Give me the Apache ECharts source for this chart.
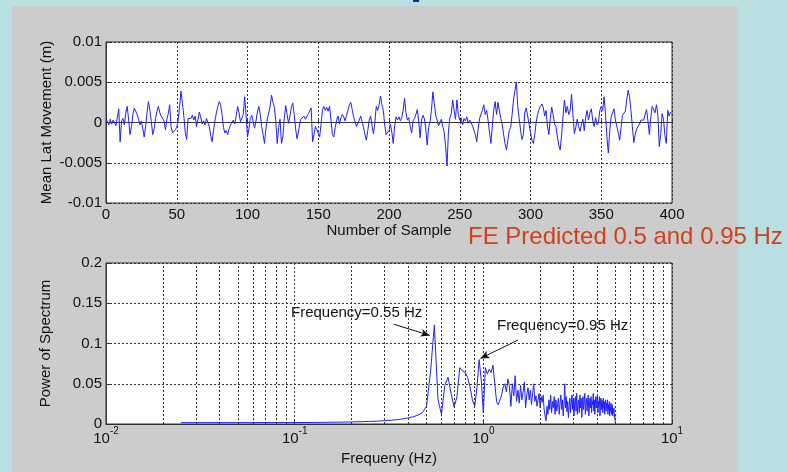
<!DOCTYPE html>
<html>
<head>
<meta charset="utf-8">
<script src="https://cdn.jsdelivr.net/npm/echarts@6/dist/echarts.min.js"></script>
<style>
  html, body { margin: 0; padding: 0; background: #badfe3; }
  #chart { width: 787px; height: 472px; }
</style>
</head>
<body>
<div id="chart"></div>
<script>
// Mean lateral movement per sample, in millimetres (samples 0..399)
const latMovementMm = [
  0.5,0.1,-0.3,0.4,-0.2,0.3,0.0,-0.4,0.6,1.7,
  -2.4,0.2,0.5,-0.3,1.2,2.0,0.3,-1.5,-0.5,1.0,
  1.8,2.0,1.0,0.4,-0.3,0.2,-0.8,-1.8,-0.5,1.2,
  2.6,1.5,0.2,-1.5,-0.8,0.5,1.4,2.0,1.2,0.8,
  1.0,0.2,-0.9,0.4,1.1,2.2,-0.5,-1.3,-1.1,-0.9,
  -0.6,0.3,2.0,3.9,2.4,0.8,-1.2,-2.1,0.5,0.7,
  0.5,0.9,0.3,0.8,-0.5,0.4,1.3,0.6,-0.2,0.2,
  -0.3,0.5,0.7,-0.5,-1.6,-2.4,-1.0,0.2,1.2,2.0,
  2.6,2.2,1.0,-0.6,-1.3,-1.0,-1.5,-0.8,-0.3,0.0,
  0.3,-0.2,0.8,2.0,1.2,0.1,0.3,1.0,3.2,1.0,
  -1.8,-0.8,0.5,0.9,0.1,-0.7,0.2,1.3,2.0,1.0,
  -0.5,-1.5,-2.6,-0.8,0.4,1.2,2.0,3.4,2.5,1.9,
  0.2,-2.6,-0.6,0.4,-2.6,-1.8,0.5,2.1,1.0,-0.1,
  0.8,1.9,2.4,1.0,-0.8,-2.0,-1.2,0.0,0.5,0.3,
  0.8,0.4,0.6,1.1,1.2,1.8,-2.4,-1.5,-0.5,-0.9,
  -1.0,-1.8,-0.2,1.6,2.0,1.5,1.9,1.4,2.0,0.3,
  -1.5,-1.8,-0.6,0.3,0.8,-0.2,0.6,1.0,0.7,0.2,
  0.9,1.5,2.2,2.5,1.6,0.7,0.7,-0.5,-0.6,0.3,
  0.8,0.7,-0.6,-1.5,-2.2,-1.0,0.3,0.8,-0.4,-1.4,
  0.0,2.0,1.5,2.2,3.3,2.2,1.5,-0.4,-1.5,-1.7,
  -1.0,-0.2,-1.2,-2.6,-0.4,0.7,0.3,0.7,0.2,0.6,
  1.5,3.0,1.2,0.3,0.6,-0.5,-1.3,0.2,0.5,1.0,
  1.6,0.2,-1.9,0.3,0.9,0.5,-0.8,-2.8,-0.6,0.1,
  1.5,3.8,2.4,0.9,0.3,-0.4,-0.3,0.4,-0.5,-1.2,
  -3.0,-5.4,-1.2,0.6,1.1,2.8,1.5,0.4,2.8,1.0,
  0.3,0.6,-0.3,0.5,0.2,0.7,-0.1,0.3,0.1,-0.4,
  -0.6,-1.5,-2.4,-0.8,0.5,0.7,1.5,2.2,1.0,1.5,
  0.3,-1.2,-2.6,-0.4,1.5,2.6,1.0,2.5,1.5,0.5,
  -0.2,-1.5,-2.6,-3.4,-2.2,-1.0,-0.6,1.0,2.8,4.0,
  5.0,2.0,0.5,-1.0,-2.1,-1.5,1.3,1.8,0.8,-0.2,
  -1.2,-2.2,-2.6,-1.5,0.0,1.0,1.6,2.0,2.3,1.9,
  0.8,1.5,-0.5,-1.5,0.5,1.9,1.0,-0.2,-0.5,-1.8,
  -2.8,-3.4,-1.5,0.8,2.8,1.2,2.0,1.0,1.5,3.5,
  1.0,-1.4,-0.6,0.4,-0.5,-1.1,-0.2,0.4,-1.0,0.6,
  1.5,0.3,1.2,1.7,0.2,-0.5,0.6,-0.3,0.0,1.5,
  2.0,1.5,3.2,1.0,-1.8,-3.8,-1.0,0.7,0.8,1.7,
  0.3,-0.5,-1.2,-2.2,-0.6,0.9,0.8,1.4,2.8,4.0,
  3.2,1.5,-0.5,-2.5,-1.5,-0.8,-0.6,-0.2,0.3,0.5,
  0.3,1.0,1.6,0.2,-1.5,0.6,2.0,1.8,1.2,2.2,
  1.0,-3.0,-1.5,1.1,0.4,-1.6,-2.6,1.5,0.8,1.3
];

// Power spectrum, one value per FFT bin (bin k = 1..200)
const spectrumPower = [
  0.0017,0.0017,0.0018,0.0018,0.0019,0.0021,0.0023,0.0026,0.0029,0.0032,
  0.0036,0.0041,0.0047,0.0055,0.0064,0.0076,0.0090,0.0110,0.0140,0.0220,
  0.0650,0.1230,0.0300,0.0120,0.0480,0.0580,0.0380,0.0210,0.0340,0.0700,
  0.0660,0.0640,0.0580,0.0460,0.0300,0.0220,0.0450,0.0800,0.0550,0.0140,
  0.0700,0.0620,0.0680,0.0640,0.0730,0.0500,0.0280,0.0240,0.0260,0.0360,
  0.0460,0.0500,0.0400,0.0560,0.0470,0.0220,0.0500,0.0350,0.0600,0.0280,
  0.042,0.026,0.048,0.030,0.040,0.052,0.020,0.036,0.045,0.030,
  0.042,0.024,0.038,0.050,0.028,0.035,0.022,0.030,0.038,0.020,
  0.034,0.027,0.036,0.018,0.010,0.004,0.022,0.012,0.030,0.018,
  0.036,0.014,0.028,0.020,0.034,0.012,0.030,0.016,0.024,0.032,
  0.012,0.026,0.036,0.018,0.030,0.010,0.024,0.050,0.020,0.034,
  0.015,0.028,0.008,0.022,0.032,0.014,0.026,0.036,0.018,0.030,
  0.010,0.028,0.034,0.016,0.038,0.012,0.026,0.030,0.014,0.036,
  0.020,0.032,0.008,0.024,0.034,0.018,0.028,0.038,0.012,0.026,
  0.032,0.016,0.030,0.036,0.010,0.022,0.032,0.020,0.034,0.014,
  0.028,0.024,0.038,0.016,0.030,0.012,0.026,0.034,0.020,0.030,
  0.036,0.014,0.028,0.022,0.034,0.010,0.024,0.032,0.018,0.030,
  0.026,0.014,0.032,0.020,0.028,0.012,0.024,0.030,0.016,0.026,
  0.020,0.030,0.012,0.024,0.018,0.028,0.010,0.022,0.016,0.026,
  0.012,0.020,0.024,0.010,0.018,0.014,0.020,0.008,0.012,0.002
];

// Acquisition: 400 samples at 10 Hz -> bin width 0.025 Hz
const sampleRate = 10;
const sampleCount = 400;

// Minor decade grid lines of the log frequency axis
const minorFreqs = [0.02,0.03,0.04,0.05,0.06,0.07,0.08,0.09,
                    0.2,0.3,0.4,0.5,0.6,0.7,0.8,0.9,
                    2,3,4,5,6,7,8,9];

// Annotated peaks
const peakNotes = [
  { text: 'Frequency=0.55 Hz', textAt: [0.0956, 0.138], from: [0.335, 0.124], to: [0.52, 0.110] },
  { text: 'Frequency=0.95 Hz', textAt: [1.181, 0.1215], from: [1.527, 0.1043], to: [0.965, 0.0815] }
];

const FONT = '"Liberation Sans", Arial, sans-serif';
const INK = '#111';
const GRID_LINE = { color: '#333', type: [2, 2], width: 1 };

const latSeries = latMovementMm.map((v, i) => [i, v / 1000]);
const specSeries = spectrumPower.map((p, i) => [(i + 1) * sampleRate / sampleCount, p]);

const chart = echarts.init(document.getElementById('chart'));

const axisCommon = {
  nameMoveOverlap: false,
  axisLine: { show: true, lineStyle: { color: '#333', width: 1 } },
  axisTick: { show: true, inside: true, length: 4, lineStyle: { color: '#333' } },
  axisLabel: { color: INK, fontSize: 15, fontFamily: FONT },
  nameTextStyle: { color: INK, fontSize: 15, fontFamily: FONT },
  splitLine: { show: true, lineStyle: GRID_LINE }
};

chart.setOption({
  animation: false,
  backgroundColor: '#badfe3',
  graphic: [
    { type: 'rect', z: -10, shape: { x: 12, y: 6, width: 726, height: 466 }, style: { fill: '#cccccc' } },
    { type: 'text', z: 10, style: { text: 'p', x: 410, y: 3, font: 'bold 44px ' + FONT, fill: '#102c8e', align: 'left', verticalAlign: 'bottom' } },
    { type: 'text', z: 100, style: { text: 'FE Predicted 0.5 and 0.95 Hz', x: 468, y: 249, font: '24px ' + FONT, fill: '#d2401a', align: 'left', verticalAlign: 'bottom' } }
  ],
  grid: [
    { left: 106, top: 42, width: 566, height: 161, show: true, backgroundColor: '#ffffff', borderColor: '#333', borderWidth: 1 },
    { left: 106, top: 263, width: 566, height: 161, show: true, backgroundColor: '#ffffff', borderColor: '#333', borderWidth: 1 }
  ],
  xAxis: [
    Object.assign({}, axisCommon, {
      gridIndex: 0, type: 'value', min: 0, max: 400, interval: 50,
      name: 'Number of Sample', nameLocation: 'middle', nameGap: 20,
      axisLabel: Object.assign({}, axisCommon.axisLabel, { margin: 4, showMinLabel: true, showMaxLabel: true })
    }),
    Object.assign({}, axisCommon, {
      gridIndex: 1, type: 'log', logBase: 10, min: 0.01, max: 10,
      name: 'Frequeny (Hz)', nameLocation: 'middle', nameGap: 27,
      axisLabel: {
        margin: 2, showMinLabel: true, showMaxLabel: true,
        formatter: v => '{b|10}{s|' + Math.round(Math.log10(v)) + '}',
        rich: {
          b: { fontSize: 15, fontFamily: FONT, color: INK, padding: [5, 0, 0, 0], verticalAlign: 'bottom' },
          s: { fontSize: 10, fontFamily: FONT, color: INK, verticalAlign: 'top' }
        }
      }
    })
  ],
  yAxis: [
    Object.assign({}, axisCommon, {
      gridIndex: 0, type: 'value', min: -0.01, max: 0.01, interval: 0.005,
      name: 'Mean Lat Movement (m)', nameLocation: 'middle', nameGap: 52,
      axisLabel: Object.assign({}, axisCommon.axisLabel, { margin: 4 })
    }),
    Object.assign({}, axisCommon, {
      gridIndex: 1, type: 'value', min: 0, max: 0.2, interval: 0.05,
      name: 'Power of Spectrum', nameLocation: 'middle', nameGap: 53,
      axisLabel: Object.assign({}, axisCommon.axisLabel, { margin: 4 })
    })
  ],
  series: [
    {
      type: 'line', xAxisIndex: 0, yAxisIndex: 0, data: latSeries,
      showSymbol: false, symbol: 'none', silent: true,
      lineStyle: { color: '#1f1fff', width: 1 }
    },
    {
      // minor log grid lines of the spectrum axes
      type: 'line', xAxisIndex: 1, yAxisIndex: 1, data: [], silent: true, z: 1,
      markLine: {
        silent: true, symbol: 'none', label: { show: false },
        lineStyle: GRID_LINE, animation: false,
        data: minorFreqs.map(f => ({ xAxis: f }))
      }
    },
    {
      type: 'line', xAxisIndex: 1, yAxisIndex: 1, data: specSeries, z: 3,
      showSymbol: false, symbol: 'none', silent: true,
      lineStyle: { color: '#1f1fff', width: 1 },
      markLine: {
        silent: true, animation: false,
        label: { show: false },
        lineStyle: { color: '#111', type: 'solid', width: 1 },
        data: peakNotes.map(n => [
          { coord: n.from, symbol: 'none' },
          { coord: n.to, symbol: 'arrow', symbolSize: [6, 9] }
        ])
      },
      markPoint: {
        silent: true, animation: false, symbol: 'circle', symbolSize: 0,
        label: { show: true, position: 'right', distance: 0, color: INK, fontSize: 15, fontFamily: FONT, formatter: p => p.name },
        data: peakNotes.map(n => ({ name: n.text, coord: n.textAt }))
      }
    }
  ]
});
</script>
</body>
</html>
